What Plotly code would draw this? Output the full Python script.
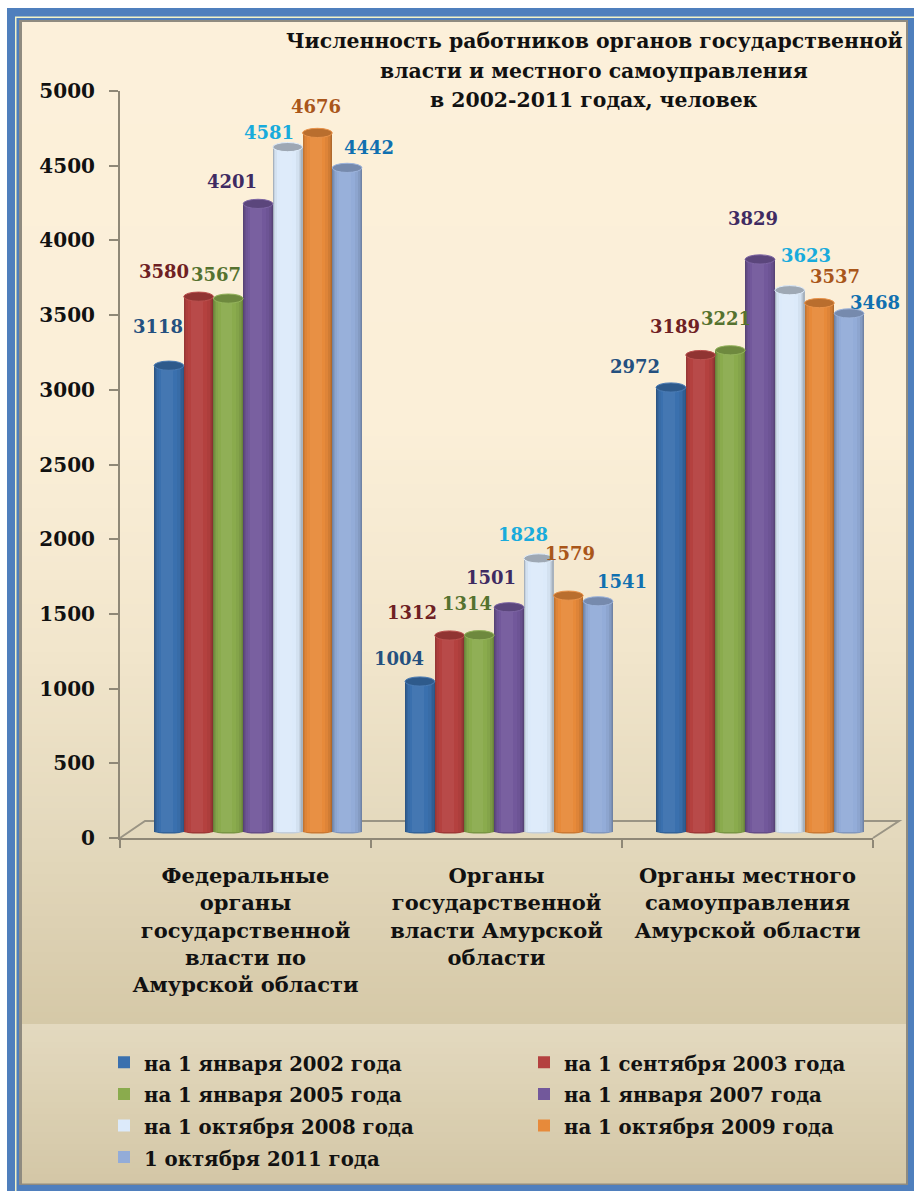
import plotly.graph_objects as go

W, H = 914, 1191
FONT = "DejaVu Serif"

categories = ["Федеральные<br>органы<br>государственной<br>власти по<br>Амурской области",
              "Органы<br>государственной<br>власти Амурской<br>области",
              "Органы местного<br>самоуправления<br>Амурской области"]
series_names = ["на 1 января 2002 года", "на 1 сентября 2003 года", "на 1 января 2005 года",
                "на 1 января 2007 года", "на 1 октября 2008 года", "на 1 октября 2009 года",
                "1 октября 2011 года"]
v2002 = [3118, 1004, 2972]
v2003 = [3580, 1312, 3189]
v2005 = [3567, 1314, 3221]
v2007 = [4201, 1501, 3829]
v2008 = [4581, 1828, 3623]
v2009 = [4676, 1579, 3537]
v2011 = [4442, 1541, 3468]
series_values = [v2002, v2003, v2005, v2007, v2008, v2009, v2011]
y_ticks = [0, 500, 1000, 1500, 2000, 2500, 3000, 3500, 4000, 4500, 5000]
title_lines = ["Численность работников органов государственной",
               "власти и местного самоуправления",
               "в 2002-2011 годах, человек"]

bar_colors = ["#3A70AE", "#B4413F", "#8AAB4D", "#72589B", "#DCEAFA", "#E78A3A", "#93ACD8"]
label_colors = ["#24507F", "#6E2023", "#55722F", "#3F2B62", "#19ABDC", "#A9561A", "#1070B0"]

# label offsets from the top of each bar (dx, dy up), px
label_dx = [[-11, -21, -36], [-35, -38, -26], [-12, -12, -4], [-26, -18, -7],
            [-19, -16, 16], [-1, 2, 16], [22, 24, 26]]
label_dy = [[39, 23, 21], [25, 23, 29], [24, 32, 32], [22, 30, 41],
            [15, 24, 35], [26, 42, 27], [20, 20, 11]]


def mix(hex_c, t):
    r, g, b = int(hex_c[1:3], 16), int(hex_c[3:5], 16), int(hex_c[5:7], 16)
    tgt = 255 if t > 0 else 0
    a = abs(t)
    return "#%02x%02x%02x" % (round(r + (tgt - r) * a), round(g + (tgt - g) * a), round(b + (tgt - b) * a))


def px(x):
    return x / W


def py(y):
    return 1 - y / H


def rect(x0, y0, x1, y1, color):
    return dict(type="rect", xref="paper", yref="paper", x0=px(x0), x1=px(x1), y0=py(y0), y1=py(y1),
                fillcolor=color, line=dict(width=0), layer="below")


def lerp(stops, y):
    for (y0, c0), (y1, c1) in zip(stops, stops[1:]):
        if y0 <= y <= y1:
            t = (y - y0) / (y1 - y0)
            vals = [round(int(c0[i:i + 2], 16) * (1 - t) + int(c1[i:i + 2], 16) * t) for i in (1, 3, 5)]
            return "#%02x%02x%02x" % tuple(vals)
    return stops[-1][1]


shapes = [
    rect(7, 8, W, H, "#4F7FBD"),
    rect(15, 16.5, W, H, "#F3F3C8"),
    rect(16.5, 18, W, H, "#4F7FBD"),
    rect(19, 20, 908, 1185, "#8F8B80"),
]
top_stops = [(22, "#FCF0DA"), (420, "#FBEFD8"), (640, "#F2E6CC"), (840, "#E3D8BC"), (1024, "#D5C8A7")]
bot_stops = [(1024, "#E3D9BF"), (1185, "#D3C6A5")]
y = 22
while y < 1024:
    y2 = min(y + 6, 1024)
    shapes.append(rect(22, y, 906, y2 + 0.5, lerp(top_stops, y)))
    y = y2
y = 1024
while y < 1183:
    y2 = min(y + 6, 1183)
    shapes.append(rect(22, y, 906, y2 + 0.5, lerp(bot_stops, y)))
    y = y2

# floor of the 3D box
floor = "M %f %f L %f %f L %f %f L %f %f" % (px(120), py(838), px(145), py(821), px(899), py(821), px(873), py(838))
shapes.append(dict(type="path", xref="paper", yref="paper", path=floor, layer="below",
                   line=dict(color="#9A9484", width=2)))

X0, X1, Y0, Y1 = 120, 873, 838, 91
unit_y = (Y0 - Y1) / 5000
unit_x = (X1 - X0) / 3
bar_w = 29.7 / unit_x
shift = 12.5 / unit_x
base_val = 6.5 / unit_y
ry = 4.6 / unit_y
ry_bottom = 2.0 / unit_y

fig = go.Figure()
layers = [(1.0, -0.24), (0.94, -0.16), (0.87, -0.1), (0.78, -0.04), (0.62, 0.0), (0.4, 0.05)]
for i, name in enumerate(series_names):
    xs = [c + shift + (i - 3) * bar_w for c in range(3)]
    for w, t in layers:
        off = 0 if w == 1.0 else -0.1 * bar_w * (1 - w)
        fig.add_trace(go.Bar(
            x=[x + off for x in xs], y=series_values[i], base=base_val, width=bar_w * w,
            name='<span style="font-size:19.7px">%s</span>' % name,
            legend="legend" if i % 2 == 0 else "legend2",
            marker=dict(color=mix(bar_colors[i], t), line=dict(width=0)),
            showlegend=(t == 0.0), hoverinfo="skip" if t != 0.0 else None,
        ))
    for j, x in enumerate(xs):
        v = series_values[i][j]
        shapes.append(dict(type="circle", xref="x", yref="y", x0=x - bar_w / 2, x1=x + bar_w / 2,
                           y0=base_val + v - ry, y1=base_val + v + ry,
                           fillcolor=mix(bar_colors[i], -0.2 if i != 4 else -0.28),
                           line=dict(color=mix(bar_colors[i], 0.08), width=1), layer="above"))
        shapes.append(dict(type="circle", xref="x", yref="y", x0=x - bar_w / 2, x1=x + bar_w / 2,
                           y0=base_val - ry_bottom, y1=base_val + ry_bottom,
                           fillcolor=mix(bar_colors[i], -0.12), line=dict(width=0), layer="below"))

annotations = []
for i in range(7):
    for j in range(3):
        annotations.append(dict(
            x=j + shift + (i - 3) * bar_w, y=series_values[i][j] + base_val, xref="x", yref="y",
            text=str(series_values[i][j]), showarrow=False, xanchor="center", yanchor="middle",
            xshift=label_dx[i][j], yshift=label_dy[i][j],
            font=dict(family=FONT, size=18, color=label_colors[i], weight="bold")))
for line, ly in zip(title_lines, [41, 71, 100]):
    annotations.append(dict(x=px(594), y=py(ly), xref="paper", yref="paper", text=line, showarrow=False,
                            xanchor="center", yanchor="middle",
                            font=dict(family=FONT, size=20.4, color="#111111", weight="bold")))

axis_col = "#8F8877"
legend_common = dict(orientation="v", xanchor="left", yanchor="bottom", traceorder="normal", bgcolor="rgba(0,0,0,0)",
                     font=dict(family=FONT, size=22, color="#111111", weight="bold"))
fig.update_layout(
    width=W, height=H, autosize=False, margin=dict(l=0, r=0, t=0, b=0, autoexpand=False),
    paper_bgcolor="white", plot_bgcolor="rgba(0,0,0,0)", barmode="overlay", bargap=0,
    shapes=shapes, annotations=annotations,
    xaxis=dict(domain=[px(X0), px(X1)], range=[-0.5, 2.5], tickmode="array", tickvals=[-0.5, 0.5, 1.5, 2.5],
               showticklabels=False, ticks="outside", ticklen=8, tickwidth=2, tickcolor=axis_col,
               showline=True, linecolor=axis_col, linewidth=2, showgrid=False, zeroline=False, anchor="y"),
    xaxis2=dict(domain=[px(X0), px(X1)], range=[-0.5, 2.5], overlaying="x", side="bottom", anchor="y",
                tickmode="array", tickvals=[0, 1, 2], ticktext=categories, ticks="", tickangle=0,
                ticklabelstandoff=23,
                tickfont=dict(family=FONT, size=21, color="#111111", weight="bold"),
                showgrid=False, zeroline=False, showline=False),
    yaxis=dict(domain=[py(Y0), py(Y1)], range=[0, 5000], tickmode="array", tickvals=y_ticks, ticks="outside",
               ticklen=9, tickwidth=2, tickcolor=axis_col, showline=True, linecolor=axis_col, linewidth=2,
               showgrid=False, zeroline=False, ticklabelstandoff=10,
               tickfont=dict(family=FONT, size=20, color="#111111", weight="bold")),
    legend=dict(x=px(104), y=py(1178.5), **legend_common),
    legend2=dict(x=px(524), y=py(1146.5), **legend_common),
)
# invisible trace to activate the label axis
fig.add_trace(go.Scatter(x=[0, 1, 2], y=[0, 0, 0], xaxis="x2", mode="markers", marker=dict(opacity=0),
                         showlegend=False, hoverinfo="skip"))
fig.write_html("out.html", config={"displayModeBar": False}, post_script="document.body.style.margin='0';")
